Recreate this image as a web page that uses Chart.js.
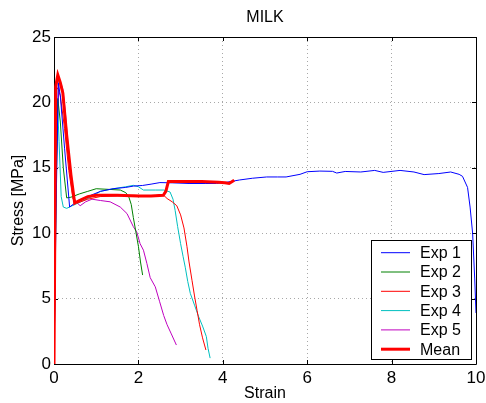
<!DOCTYPE html>
<html>
<head>
<meta charset="utf-8">
<script src="https://cdn.jsdelivr.net/npm/chart.js@4/dist/chart.umd.min.js"></script>
<style>
  html, body { margin: 0; padding: 0; background: #fff; }
  #wrap { width: 486px; height: 403px; }
</style>
</head>
<body>
<div id="wrap"><canvas id="c" width="486" height="403"></canvas></div>
<script>
// Stress-strain curves for the MILK samples
const seriesNames = ['Exp 1', 'Exp 2', 'Exp 3', 'Exp 4', 'Exp 5', 'Mean'];

const exp1X = [0, 0.05, 0.1, 0.15, 0.25, 0.37, 0.45, 0.6, 0.8, 1.1, 1.4, 1.7, 1.88, 2.1, 2.3, 2.51, 2.8, 3.2, 3.6, 3.85, 4.1, 4.4, 4.7, 5.04, 5.3, 5.5, 5.83, 6.0, 6.3, 6.6, 6.7, 6.9, 7.27, 7.6, 7.8, 8.2, 8.53, 8.77, 9.12, 9.4, 9.6, 9.68, 9.8, 9.86, 9.92, 9.97, 10.0];
const exp1Y = [0, 12, 21.5, 20.5, 16.5, 12.0, 12.2, 12.5, 12.8, 13.2, 13.4, 13.5, 13.6, 13.65, 13.75, 13.87, 13.85, 13.8, 13.8, 13.8, 13.9, 14.07, 14.2, 14.3, 14.3, 14.3, 14.5, 14.7, 14.75, 14.73, 14.6, 14.72, 14.68, 14.8, 14.65, 14.8, 14.68, 14.48, 14.56, 14.68, 14.5, 14.35, 13.5, 12.0, 10.0, 6.5, 3.9];

const exp2X = [0, 0.05, 0.09, 0.15, 0.22, 0.3, 0.4, 0.6, 0.8, 1.0, 1.3, 1.57, 1.7, 1.77, 1.83, 1.88, 1.94, 2.0, 2.05, 2.1];
const exp2Y = [0, 13, 20.3, 18.5, 15, 12.7, 12.75, 13.0, 13.2, 13.4, 13.35, 13.3, 13.1, 12.8, 12.2, 11.2, 10.1, 9.0, 7.8, 6.8];

const exp3X = [0, 0.05, 0.1, 0.15, 0.25, 0.35, 0.45, 0.55, 0.8, 1.1, 1.5, 1.9, 2.3, 2.6, 2.68, 2.8, 2.91, 3.0, 3.08, 3.15, 3.2, 3.27, 3.33, 3.39, 3.45, 3.52, 3.6];
const exp3Y = [0, 21.2, 21.0, 20.5, 18, 14.8, 12.6, 12.3, 12.6, 12.8, 12.85, 12.9, 12.85, 12.9, 12.65, 12.4, 12.1, 11.4, 10.4, 9.0, 7.8, 6.4, 5.2, 4.1, 3.0, 2.0, 1.07];

const exp4X = [0, 0.04, 0.08, 0.12, 0.17, 0.22, 0.3, 0.5, 0.7, 0.9, 1.1, 1.4, 1.7, 1.88, 2.0, 2.12, 2.4, 2.6, 2.75, 2.82, 2.87, 2.93, 3.0, 3.06, 3.11, 3.17, 3.23, 3.33, 3.43, 3.52, 3.61, 3.65, 3.7];
const exp4Y = [0, 12, 20.2, 17, 12.8, 12.0, 11.9, 12.2, 12.5, 12.8, 13.2, 13.4, 13.55, 13.66, 13.55, 13.3, 13.3, 13.3, 13.15, 12.6, 11.75, 10.5, 9.2, 8.2, 7.4, 6.3, 5.4, 4.5, 3.6, 2.9, 2.1, 1.2, 0.45];

const exp5X = [0, 0.05, 0.12, 0.17, 0.21, 0.27, 0.33, 0.4, 0.46, 0.52, 0.62, 0.75, 0.9, 1.1, 1.33, 1.57, 1.73, 1.88, 1.96, 2.04, 2.12, 2.2, 2.28, 2.4, 2.5, 2.6, 2.68, 2.78, 2.9];
const exp5Y = [0, 15, 21.8, 21.4, 21.0, 19.2, 16.9, 14.6, 12.8, 12.4, 12.1, 12.4, 12.6, 12.5, 12.4, 12.0, 11.5, 10.5, 10.1, 9.2, 8.7, 7.7, 6.6, 5.9, 4.8, 3.7, 3.0, 2.3, 1.45];

const meanX = [0, 0.04, 0.09, 0.15, 0.21, 0.3, 0.4, 0.49, 0.6, 0.8, 1.0, 1.5, 2.0, 2.3, 2.59, 2.65, 2.71, 3.0, 3.5, 3.9, 4.05, 4.15, 4.27];
const meanY = [0, 21.2, 22.1, 21.5, 20.7, 17.5, 14.5, 12.3, 12.5, 12.8, 12.9, 12.9, 12.85, 12.85, 12.9, 13.2, 13.95, 13.95, 13.95, 13.9, 13.85, 13.8, 14.05];

const xTicks = [0, 2, 4, 6, 8, 10];
const yTicks = [0, 5, 10, 15, 20, 25];

const seriesX = [exp1X, exp2X, exp3X, exp4X, exp5X, meanX];
const seriesY = [exp1Y, exp2Y, exp3Y, exp4Y, exp5Y, meanY];
const colors = ['#0000ff', '#008000', '#ff0000', '#00bfbf', '#bf00bf', '#ff0000'];
const widths = [1, 1, 1, 1, 1, 3];

const FONT = 'Liberation Sans, Arial, Helvetica, sans-serif';

const datasets = seriesNames.map((name, i) => ({
  label: name,
  data: seriesX[i].map((x, k) => ({ x: x, y: seriesY[i][k] })),
  borderColor: colors[i],
  backgroundColor: colors[i],
  borderWidth: widths[i],
  showLine: true,
  pointRadius: 0,
  pointHoverRadius: 0,
  tension: 0,
  fill: false,
  order: i === 5 ? 0 : 1
}));

// Box outline, inward tick marks, title and legend
const framePlugin = {
  id: 'frame',
  beforeDatasetsDraw(chart) {
    const { ctx, chartArea: a, scales } = chart;
    ctx.save();
    ctx.strokeStyle = '#000';
    ctx.lineWidth = 1;
    ctx.beginPath();
    ctx.rect(Math.round(a.left) + 0.5, Math.round(a.top) + 0.5,
             Math.round(a.right - a.left), Math.round(a.bottom - a.top));
    ctx.stroke();
    const tl = 4;
    ctx.beginPath();
    xTicks.forEach(v => {
      const px = Math.round(scales.x.getPixelForValue(v)) + 0.5;
      ctx.moveTo(px, a.bottom); ctx.lineTo(px, a.bottom - tl);
      ctx.moveTo(px, a.top); ctx.lineTo(px, a.top + tl);
    });
    yTicks.forEach(v => {
      const py = Math.round(scales.y.getPixelForValue(v)) + 0.5;
      ctx.moveTo(a.left, py); ctx.lineTo(a.left + tl, py);
      ctx.moveTo(a.right, py); ctx.lineTo(a.right - tl, py);
    });
    ctx.stroke();
    ctx.restore();
  },
  afterDraw(chart) {
    const { ctx, chartArea: a } = chart;
    ctx.save();
    // title
    ctx.fillStyle = '#000';
    ctx.font = '16px ' + FONT;
    ctx.textAlign = 'center';
    ctx.textBaseline = 'middle';
    ctx.fillText('MILK', (a.left + a.right) / 2, 18);
    // legend
    const bx = 371.5, by = 240.5, bw = 100, bh = 119;
    ctx.fillStyle = '#fff';
    ctx.fillRect(bx, by, bw, bh);
    ctx.strokeStyle = '#000';
    ctx.lineWidth = 1;
    ctx.strokeRect(bx, by, bw, bh);
    ctx.textAlign = 'left';
    chart.data.datasets.forEach((ds, i) => {
      const y = 252.7 + i * 19.3;
      ctx.strokeStyle = ds.borderColor;
      ctx.lineWidth = ds.borderWidth;
      ctx.beginPath();
      ctx.moveTo(381, y); ctx.lineTo(410, y);
      ctx.stroke();
      ctx.fillStyle = '#000';
      ctx.fillText(ds.label, 420, y + 1);
    });
    ctx.restore();
  }
};

new Chart(document.getElementById('c'), {
  type: 'scatter',
  data: { datasets: datasets },
  options: {
    responsive: false,
    animation: false,
    events: [],
    layout: { padding: { left: 0, right: 10, top: 37, bottom: 0 } },
    plugins: { legend: { display: false }, title: { display: false }, tooltip: { enabled: false } },
    scales: {
      x: {
        type: 'linear', min: 0, max: 10,
        afterFit: s => { s.height = 39; s.paddingLeft = 0; s.paddingRight = 0; },
        afterBuildTicks: s => { s.ticks = xTicks.map(v => ({ value: v })); },
        ticks: { color: '#000', padding: 4, font: { family: FONT, size: 17 }, maxRotation: 0 },
        grid: { color: '#a8a8a8', lineWidth: 1, drawTicks: false },
        border: { display: false, dash: [1, 3] },
        title: { display: true, text: 'Strain', color: '#000', font: { family: FONT, size: 16, lineHeight: 1.2 }, padding: { top: 0, bottom: 0 } }
      },
      y: {
        type: 'linear', min: 0, max: 25,
        afterFit: s => { s.width = 54; s.paddingTop = 0; s.paddingBottom = 0; },
        afterBuildTicks: s => { s.ticks = yTicks.map(v => ({ value: v })); },
        ticks: { color: '#000', padding: 3, font: { family: FONT, size: 17 } },
        grid: { color: '#a8a8a8', lineWidth: 1, drawTicks: false },
        border: { display: false, dash: [1, 3] },
        title: { display: true, text: 'Stress [MPa]', color: '#000', font: { family: FONT, size: 16, lineHeight: 1.2 }, padding: { top: 9, bottom: 0 } }
      }
    }
  },
  plugins: [framePlugin]
});
</script>
</body>
</html>
